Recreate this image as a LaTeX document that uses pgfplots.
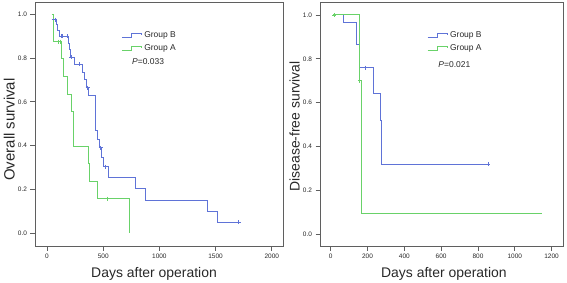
\documentclass[border=0pt]{standalone}
\usepackage{fontspec}
\setmainfont{Liberation Sans}
\usepackage{pgfplots}
\pgfplotsset{compat=1.18}
\definecolor{kmblue}{RGB}{95,115,215}
\definecolor{kmgreen}{RGB}{105,210,105}
\definecolor{framegray}{RGB}{95,95,95}
\definecolor{txt}{RGB}{40,40,40}

\pgfplotsset{
  km/.style={
    scale only axis,
    axis line style={framegray, line width=0.8bp},
    tick align=outside,
    xtick pos=left, ytick pos=left,
    major tick length=4.5bp,
    every tick/.style={framegray, line width=0.8bp},
    tick label style={font=\fontsize{6.5}{7}\selectfont, color=txt},
    /pgf/number format/assume math mode=true,
    /pgf/number format/1000 sep={},
    yticklabel style={/pgf/number format/fixed, /pgf/number format/fixed zerofill, /pgf/number format/precision=1},
    ytick={0,0.2,0.4,0.6,0.8,1.0},
    label style={font=\fontsize{14}{16}\selectfont, color=txt},
    legend style={draw=none, fill=none, font=\fontsize{8.5}{10}\selectfont, text=txt, anchor=north west, inner sep=0pt, row sep=1.5bp, /tikz/every even column/.style={column sep=1.5bp}},
    legend cell align=left,
  },
  stepb/.style={const plot, color=kmblue, line width=1bp, mark=none,
    legend image code/.code={\draw[kmblue, line width=1bp] (0bp,-2.3bp) -- (10bp,-2.3bp) -- (10bp,1.7bp) -- (20bp,1.7bp) -- (20bp,0.2bp);}},
  stepg/.style={const plot, color=kmgreen, line width=1bp, mark=none,
    legend image code/.code={\draw[kmgreen, line width=1bp] (0bp,-2.3bp) -- (10bp,-2.3bp) -- (10bp,1.7bp) -- (20bp,1.7bp) -- (20bp,0.2bp);}},
  censb/.style={only marks, mark=+, mark size=2bp, color=kmblue, mark options={line width=0.8bp}, forget plot},
  censg/.style={only marks, mark=+, mark size=2bp, color=kmgreen, mark options={line width=0.8bp}, forget plot},
}

\begin{document}
\begin{tikzpicture}
\useasboundingbox (0,0) rectangle (567bp,283bp);
% ---------------- left panel ----------------
\begin{axis}[km,
  at={(35bp,37bp)}, anchor=south west, width=248bp, height=244bp,
  xmin=-107, xmax=2100, ymin=-0.058, ymax=1.056,
  xtick={0,500,1000,1500,2000},
  xlabel={Days after operation}, ylabel={Overall survival},
  xlabel style={at={(axis description cs:0.48,-0.131)}, anchor=base},
  ylabel style={at={(axis description cs:-0.081,0.477)}, anchor=south, inner sep=0pt, font=\fontsize{15}{17}\selectfont},
  legend style={at={(axis description cs:0.347,0.889)}},
]
\addplot[stepb] coordinates {
 (40,0.976) (80,0.951) (95,0.926) (107,0.899) (190,0.868) (199,0.837) (211,0.804)
 (243,0.772) (314,0.735) (332,0.700) (353,0.665) (368,0.627) (427,0.510) (433,0.470)
 (451,0.430) (466,0.390) (486,0.347) (501,0.304) (546,0.254) (783,0.203) (878,0.152)
 (1425,0.101) (1520,0.050) (1705,0.050)};
\addlegendentry{Group B}
\addplot[stepg] coordinates {
 (40,1.000) (62,0.875) (125,0.796) (145,0.715) (184,0.635) (220,0.556) (234,0.397)
 (368,0.317) (374,0.238) (449,0.158) (733,0.000)};
\addlegendentry{Group A}
\addplot[censb] coordinates {
 (71,0.976) (125,0.899) (140,0.899) (181,0.899) (215,0.804) (290,0.772) (362,0.665)
 (478,0.390) (516,0.304) (1705,0.050)};
\addplot[censg] coordinates {(100,0.875) (115,0.875) (540,0.158)};
\node[font=\fontsize{8.5}{10}\selectfont, text=txt] at (axis description cs:0.456,0.755) {\textit{P}=0.033};
\end{axis}
% ---------------- right panel ----------------
\begin{axis}[km,
  at={(320bp,37bp)}, anchor=south west, width=243bp, height=244bp,
  xmin=-58, xmax=1262, ymin=-0.053, ymax=1.059,
  xtick={0,200,400,600,800,1000,1200},
  xlabel={Days after operation}, ylabel={Disease-free survival},
  xlabel style={at={(axis description cs:0.51,-0.131)}, anchor=base},
  ylabel style={at={(axis description cs:-0.082,0.49)}, anchor=south, inner sep=0pt},
  legend style={at={(axis description cs:0.44,0.889)}},
]
\addplot[stepb] coordinates {
 (15,1.000) (69,0.967) (141,0.865) (157,0.760) (231,0.642) (271,0.520) (277,0.320) (856,0.320)};
\addlegendentry{Group B}
\addplot[stepg] coordinates {
 (15,1.000) (158,0.700) (165,0.095) (1150,0.095)};
\addlegendentry{Group A}
\addplot[censb] coordinates {(186,0.760) (856,0.320)};
\addplot[censg] coordinates {(20,1.000) (158,0.700)};
\node[font=\fontsize{8.5}{10}\selectfont, text=txt] at (axis description cs:0.553,0.742) {\textit{P}=0.021};
\end{axis}
\end{tikzpicture}
\end{document}
